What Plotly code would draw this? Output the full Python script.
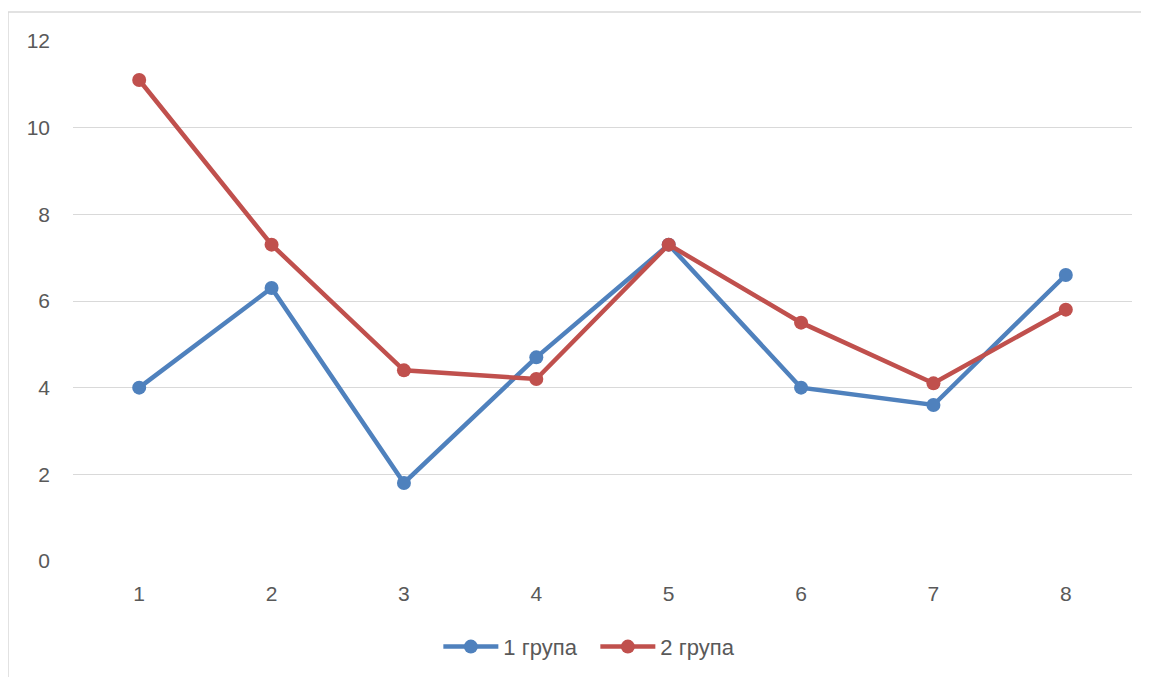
import plotly.graph_objects as go

categories = [1, 2, 3, 4, 5, 6, 7, 8]
group1 = [4.0, 6.3, 1.8, 4.7, 7.3, 4.0, 3.6, 6.6]
group2 = [11.1, 7.3, 4.4, 4.2, 7.3, 5.5, 4.1, 5.8]
series_names = ["1 група", "2 група"]
y_ticks = [0, 2, 4, 6, 8, 10, 12]

fig = go.Figure()
fig.add_trace(go.Scatter(x=categories, y=group1, name=series_names[0], mode="lines+markers",
                         line=dict(color="#4f81bd", width=4.5), marker=dict(size=14, color="#4f81bd")))
fig.add_trace(go.Scatter(x=categories, y=group2, name=series_names[1], mode="lines+markers",
                         line=dict(color="#c0504d", width=4.5), marker=dict(size=14, color="#c0504d")))

fig.update_layout(
    width=1149, height=677,
    margin=dict(l=65, r=25, t=33, b=124),
    paper_bgcolor="white", plot_bgcolor="white",
    font=dict(family="Liberation Sans, Arial, sans-serif", size=21, color="#595959"),
    showlegend=True,
    legend=dict(orientation="h", x=0.345, xanchor="left", y=-0.165, yanchor="middle",
                font=dict(size=22, color="#595959"), itemwidth=55,
                entrywidth=87, entrywidthmode="pixels"),
    xaxis=dict(range=[0.5, 8.5], tickvals=categories, ticktext=[str(c) for c in categories],
               showgrid=False, zeroline=False, showline=False, ticks="", ticklabelstandoff=18),
    yaxis=dict(range=[0, 12], tickvals=y_ticks, showgrid=True, gridcolor="#d9d9d9", gridwidth=1.3,
               zeroline=False, showline=False, ticks="", ticklabelstandoff=22),
    shapes=[dict(type="rect", xref="paper", yref="paper", x0=(8 - 73) / 1059, x1=1.2,
                 y0=-0.5, y1=(561 - 12) / 520, line=dict(color="#d9d9d9", width=1.5), layer="below")],
)
fig.write_html("out.html")
